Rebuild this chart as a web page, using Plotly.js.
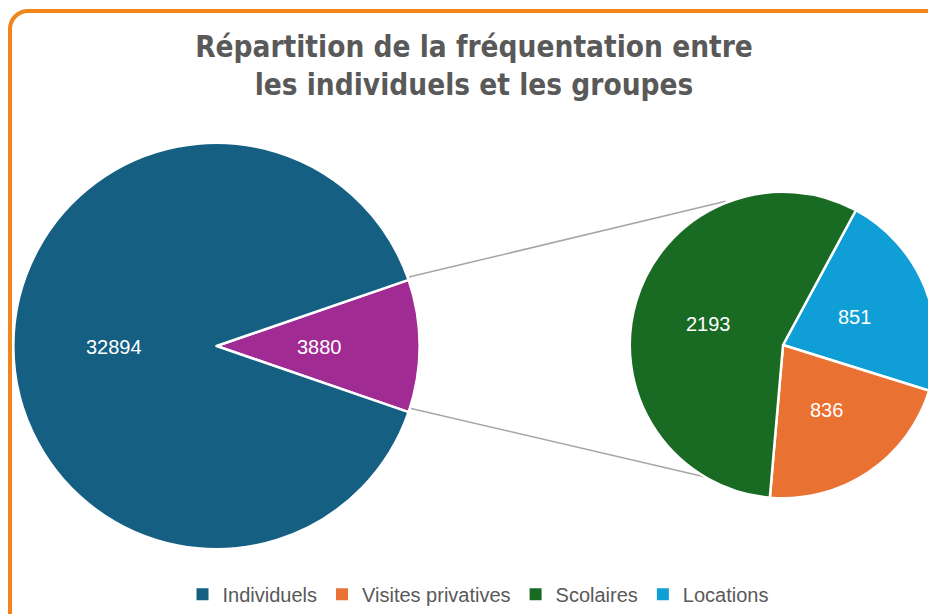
<!DOCTYPE html>
<html>
<head>
<meta charset="utf-8">
<script src="https://cdn.plot.ly/plotly-3.0.1.min.js"></script>
<style>
html,body{margin:0;padding:0;overflow:hidden;background:#fff;width:928px;height:614px;}
#chart{position:absolute;left:0;top:0;width:945px;height:614px;}
#frame{position:absolute;left:8px;top:9px;width:1000px;height:700px;border:4px solid #F0861A;border-radius:20px;pointer-events:none;box-sizing:border-box;}
</style>
</head>
<body>
<div id="chart"></div>
<div id="frame"></div>
<script>
// ---- data ----
const mainLabels = ["Groupes", "Individuels"];
const mainValues = [3880, 32894];
const mainColors = ["#A02B93", "#156082"];

const subLabels = ["Locations", "Visites privatives", "Scolaires"];
const subValues = [851, 836, 2193];
const subColors = ["#0F9ED5", "#E97132", "#196B24"];

const legendLabels = ["Individuels", "Visites privatives", "Scolaires", "Locations"];
const legendColors = ["#156082", "#E97132", "#196B24", "#0F9ED5"];

const titleText = "Répartition de la fréquentation entre<br>les individuels et les groupes";

// ---- geometry ----
const W = 945, H = 614;
const L = {cx: 216.5, cy: 350, r: 205.5};
const R = {cx: 783, cy: 349, r: 155};
function dom(p){ return {x:[(p.cx-p.r)/W,(p.cx+p.r)/W], y:[1-(p.cy+p.r)/H, 1-(p.cy-p.r)/H]}; }
function px(x){return x/W;} function py(y){return 1-y/H;}
const rad = Math.PI/180;

const mainTotal = mainValues.reduce((a,b)=>a+b,0);
const halfAng = 180*mainValues[0]/mainTotal; // degrees
const mainRot = 90 - halfAng;
const subRot = 28.4;
const labelFont = {family:"Liberation Sans, Arial, sans-serif", size:20, color:"#ffffff"};

const traces = [
  {type:"pie", labels:mainLabels, values:mainValues, marker:{colors:mainColors, line:{color:"#ffffff", width:2.5}},
   domain:dom(L), sort:false, direction:"clockwise", rotation:mainRot, textinfo:"none",
   showlegend:false, hoverinfo:"label+value"},
  {type:"pie", labels:subLabels, values:subValues, marker:{colors:subColors, line:{color:"#ffffff", width:2.5}},
   domain:dom(R), sort:false, direction:"clockwise", rotation:subRot, textinfo:"none",
   showlegend:false, hoverinfo:"label+value"}
];
legendLabels.forEach((n,i)=>{
  traces.push({type:"scatter", mode:"markers", x:[null], y:[null], name:n,
    marker:{symbol:"square", size:7, color:legendColors[i]}, showlegend:true, hoverinfo:"skip"});
});

// data labels placed on each slice's bisector (clockwise from 12 o'clock)
function sliceLabels(values, rot, p){
  const tot = values.reduce((a,b)=>a+b,0);
  let start = rot, out = [];
  values.forEach(v=>{
    const span = 360*v/tot;
    const mid = (start + span/2)*rad;
    out.push({x:px(p.cx + 0.5*p.r*Math.sin(mid)), y:py(p.cy - 0.5*p.r*Math.cos(mid) + 1),
              xref:"paper", yref:"paper", text:String(v), showarrow:false, font:labelFont,
              xanchor:"center", yanchor:"middle"});
    start += span;
  });
  return out;
}
const annotations = sliceLabels(mainValues, mainRot, L).concat(sliceLabels(subValues, subRot, R));

// connector lines from the small slice edges to the second pie
const a = halfAng*rad;
const rl = L.r - 2, rr = R.r - 2, dy = -3.5;
const p1 = [L.cx + rl*Math.cos(a), L.cy - rl*Math.sin(a) + dy];
const p2 = [L.cx + rl*Math.cos(a), L.cy + rl*Math.sin(a) + dy];
const b = 22*rad;
const q1 = [R.cx - rr*Math.sin(b), R.cy - rr*Math.cos(b) + dy];
const q2 = [R.cx - rr*Math.sin(b), R.cy + rr*Math.cos(b) + dy];
const shapes = [
  {type:"line", xref:"paper", yref:"paper", x0:px(p1[0]), y0:py(p1[1]), x1:px(q1[0]), y1:py(q1[1]), line:{color:"#A6A6A6", width:1.5}, layer:"below"},
  {type:"line", xref:"paper", yref:"paper", x0:px(p2[0]), y0:py(p2[1]), x1:px(q2[0]), y1:py(q2[1]), line:{color:"#A6A6A6", width:1.5}, layer:"below"}
];

const layout = {
  width: W, height: H,
  margin: {l:0, r:0, t:0, b:0},
  paper_bgcolor: "#ffffff", plot_bgcolor: "rgba(0,0,0,0)",
  title: {text: titleText, x: 474/W, xanchor: "center", y: 1-57/H, yanchor: "top", yref:"container",
          font: {family: "Liberation Sans Narrow, DejaVu Sans Condensed, Roboto, sans-serif", size: 29.5, color: "#595959", weight: "bold"}},
  xaxis: {visible:false, range:[0,1]}, yaxis: {visible:false, range:[0,1]},
  showlegend: true,
  legend: {orientation:"h", x: 478/W, xanchor:"center", y: 1-601/H, yanchor:"middle",
           font:{family:"Liberation Sans, Arial, sans-serif", size:20, color:"#595959"}, bgcolor:"rgba(0,0,0,0)", itemsizing:"constant"},
  shapes: shapes,
  annotations: annotations
};
Plotly.newPlot("chart", traces, layout, {staticPlot:true});
</script>
</body>
</html>
